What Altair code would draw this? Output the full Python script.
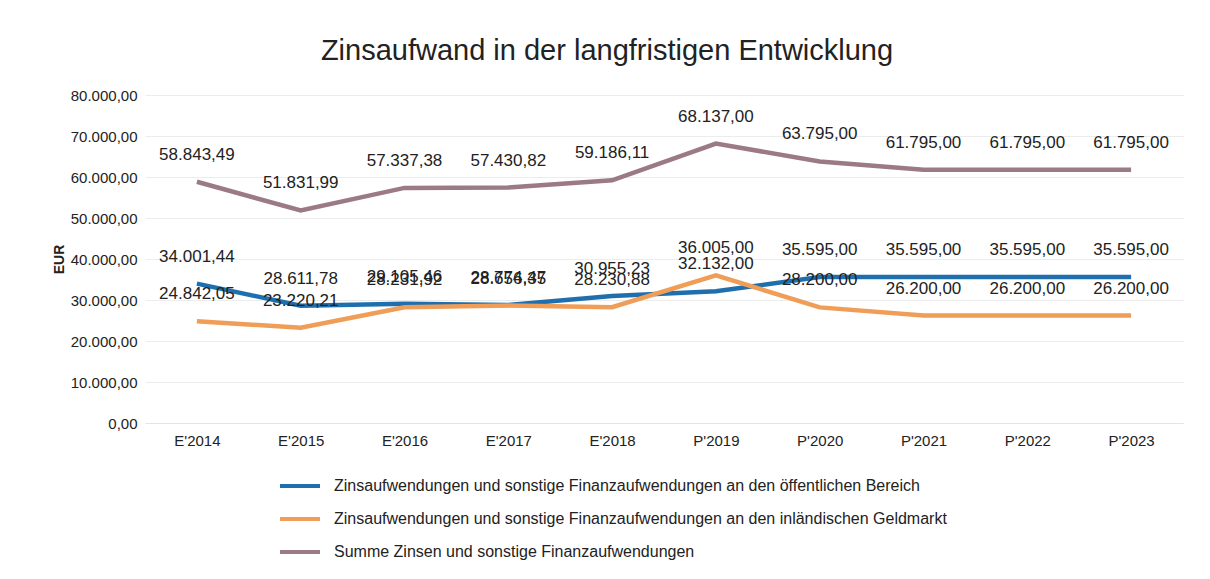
import altair as alt
import pandas as pd

years = ["E'2014", "E'2015", "E'2016", "E'2017", "E'2018",
         "P'2019", "P'2020", "P'2021", "P'2022", "P'2023"]
oeffentlich = [34001.44, 28611.78, 29105.46, 28774.47, 30955.23,
               32132.00, 35595.00, 35595.00, 35595.00, 35595.00]
geldmarkt = [24842.05, 23220.21, 28231.92, 28656.35, 28230.88,
             36005.00, 28200.00, 26200.00, 26200.00, 26200.00]
summe = [58843.49, 51831.99, 57337.38, 57430.82, 59186.11,
         68137.00, 63795.00, 61795.00, 61795.00, 61795.00]

series_names = [
    "Zinsaufwendungen und sonstige Finanzaufwendungen an den öffentlichen Bereich",
    "Zinsaufwendungen und sonstige Finanzaufwendungen an den inländischen Geldmarkt",
    "Summe Zinsen und sonstige Finanzaufwendungen",
]
colors = ["#1f6fae", "#ef9d57", "#9b7a85"]


def de_fmt(v):
    s = f"{v:,.2f}"
    return s.replace(",", "#").replace(".", ",").replace("#", ".")


rows = []
for name, vals in zip(series_names, [oeffentlich, geldmarkt, summe]):
    for y, v in zip(years, vals):
        rows.append({"Jahr": y, "Wert": v, "Serie": name, "Label": de_fmt(v)})
df = pd.DataFrame(rows)

x = alt.X("Jahr:N", sort=years, title=None,
          scale=alt.Scale(paddingInner=0, paddingOuter=0.5),
          axis=alt.Axis(labelAngle=0, labelFontSize=15, labelColor="#222222",
                        labelFont="Liberation Sans", labelPadding=10,
                        ticks=False, domain=True, domainColor="#e4e4e4",
                        grid=False))
y = alt.Y("Wert:Q", title="EUR",
          scale=alt.Scale(domain=[0, 80000]),
          axis=alt.Axis(values=list(range(0, 80001, 10000)), labelFontSize=15,
                        labelColor="#222222", labelFont="Liberation Sans",
                        labelExpr="replace(replace(replace(format(datum.value, ',.2f'), ',', '#'), '.', ','), regexp('#', 'g'), '.')",
                        labelPadding=8, ticks=False, domain=False,
                        gridColor="#ececec", titleFontSize=14,
                        titleFont="Liberation Sans", titleColor="#222222",
                        titleFontWeight="bold", titlePadding=4))

color = alt.Color("Serie:N", sort=series_names,
                  scale=alt.Scale(domain=series_names, range=colors),
                  legend=alt.Legend(title=None, orient="none", legendX=133,
                                    legendY=369, direction="vertical",
                                    symbolType="stroke", symbolSize=1600,
                                    symbolStrokeWidth=4, labelFontSize=16,
                                    labelFont="Liberation Sans",
                                    labelColor="#222222", rowPadding=3,
                                    labelLimit=900, labelOffset=12))

lines = alt.Chart(df).mark_line(strokeWidth=4.5).encode(x=x, y=y, color=color)
labels = alt.Chart(df).mark_text(dy=-27, fontSize=17, font="Liberation Sans",
                                 color="#222222").encode(
    x=alt.X("Jahr:N", sort=years), y="Wert:Q", text="Label:N")

chart = (lines + labels).properties(
    width=1038, height=328,
    title=alt.TitleParams("Zinsaufwand in der langfristigen Entwicklung",
                          fontSize=29, font="Liberation Sans",
                          fontWeight="normal", color="#222222",
                          anchor="middle", dx=-57, offset=22),
    autosize=alt.AutoSizeParams(type="none"),
    padding={"left": 137, "top": 87, "right": 19, "bottom": 148},
).configure_view(stroke=None)

chart.save("out.html", embed_options={"renderer": "svg", "actions": False})
